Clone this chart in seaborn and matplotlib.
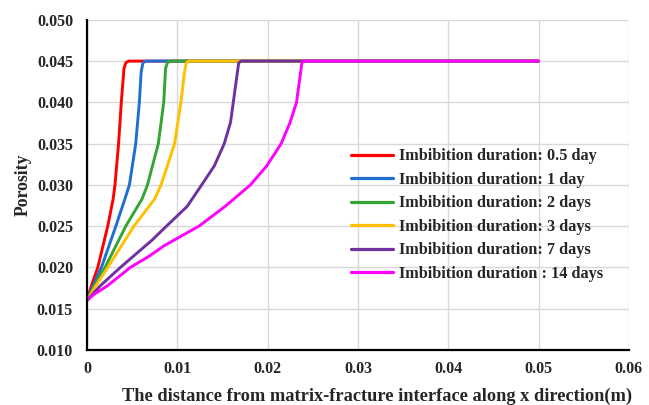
import matplotlib
matplotlib.use("Agg")
import matplotlib.pyplot as plt
import seaborn as sns
import pandas as pd

# Porosity profiles along x for each imbibition duration (distance in m)
labels = [
    "Imbibition duration: 0.5 day",
    "Imbibition duration: 1 day",
    "Imbibition duration: 2 days",
    "Imbibition duration: 3 days",
    "Imbibition duration: 7 days",
    "Imbibition duration : 14 days",
]
colors = ["#FF0000", "#1F6FD0", "#33A532", "#FFC000", "#7030A0", "#FF00FF"]

por_05 = [0.0160, 0.0178, 0.0200, 0.0250, 0.0283, 0.0300, 0.0350, 0.0400, 0.0441, 0.0448, 0.0450, 0.0450]
x_05 = [0.0000, 0.0005, 0.0012, 0.0023, 0.0029, 0.0031, 0.0035, 0.0038, 0.0041, 0.0043, 0.0046, 0.0500]

por_1 = [0.0160, 0.0178, 0.0200, 0.0250, 0.0283, 0.0300, 0.0350, 0.0400, 0.0437, 0.0448, 0.0450, 0.0450]
x_1 = [0.0000, 0.0007, 0.0016, 0.0032, 0.0042, 0.0047, 0.0054, 0.0058, 0.0060, 0.0062, 0.0065, 0.0500]

por_2 = [0.0160, 0.0178, 0.0200, 0.0250, 0.0283, 0.0300, 0.0350, 0.0400, 0.0441, 0.0448, 0.0450, 0.0450]
x_2 = [0.0000, 0.00085, 0.0020, 0.0043, 0.0061, 0.0067, 0.0079, 0.0085, 0.0087, 0.0089, 0.0092, 0.0500]

por_3 = [0.0160, 0.0178, 0.0200, 0.0250, 0.0283, 0.0300, 0.0323, 0.0350, 0.0400, 0.0437, 0.0448, 0.0450, 0.0450]
x_3 = [0.0000, 0.0010, 0.0023, 0.0052, 0.0075, 0.0082, 0.0089, 0.0097, 0.0104, 0.0108, 0.0110, 0.0113, 0.0500]

por_7 = [0.0160, 0.0178, 0.0200, 0.0233, 0.0250, 0.0274, 0.0300, 0.0323, 0.0350, 0.0376, 0.0400, 0.0424, 0.0448, 0.0450, 0.0450]
x_7 = [0.0000, 0.0015, 0.0037, 0.0072, 0.0088, 0.0111, 0.0127, 0.0141, 0.0152, 0.0159, 0.0162, 0.0165, 0.0168, 0.0171, 0.0500]

por_14 = [0.0160, 0.01675, 0.0178, 0.0200, 0.0213, 0.0226, 0.0250, 0.0274, 0.0300, 0.0323, 0.0350, 0.0376, 0.0400, 0.0424, 0.0448, 0.0450, 0.0450]
x_14 = [0.0000, 0.0008, 0.0023, 0.0048, 0.0068, 0.0085, 0.0124, 0.0153, 0.0181, 0.0199, 0.0215, 0.0225, 0.0232, 0.0235, 0.0238, 0.0240, 0.0500]

series = [(x_05, por_05), (x_1, por_1), (x_2, por_2), (x_3, por_3), (x_7, por_7), (x_14, por_14)]

xticks = [0, 0.01, 0.02, 0.03, 0.04, 0.05, 0.06]
xticklabels = ["0", "0.01", "0.02", "0.03", "0.04", "0.05", "0.06"]
yticks = [0.010, 0.015, 0.020, 0.025, 0.030, 0.035, 0.040, 0.045, 0.050]
yticklabels = ["0.010", "0.015", "0.020", "0.025", "0.030", "0.035", "0.040", "0.045", "0.050"]

frames = []
for lab, (xs, ys) in zip(labels, series):
    frames.append(pd.DataFrame({"distance": xs, "porosity": ys, "duration": lab}))
df = pd.concat(frames, ignore_index=True)

sns.set_theme(style="white")
plt.rcParams["font.family"] = ["Liberation Serif", "DejaVu Serif"]
plt.rcParams["font.weight"] = "bold"

fig = plt.figure(figsize=(6.49, 4.05), dpi=100)
ax = fig.add_axes([0.134, 0.136, 0.835, 0.815])

sns.lineplot(data=df, x="distance", y="porosity", hue="duration", hue_order=labels,
             palette=colors, sort=False, estimator=None, linewidth=2.1, ax=ax)

ax.set_xlim(0, 0.06)
ax.set_ylim(0.010, 0.050)
ax.set_xticks(xticks)
ax.set_xticklabels(xticklabels)
ax.set_yticks(yticks)
ax.set_yticklabels(yticklabels)
ax.grid(True, color="#d9d9d9", linewidth=1.0)
ax.set_axisbelow(True)
for side in ["top", "right"]:
    ax.spines[side].set_visible(False)
for side in ["left", "bottom"]:
    ax.spines[side].set_color("black")
    ax.spines[side].set_linewidth(1.6)
ax.tick_params(axis="both", direction="in", length=4, width=1.2, color="black",
               labelsize=11.5)
ax.tick_params(axis="y", pad=10)
ax.tick_params(axis="x", pad=8)
for t in ax.get_xticklabels() + ax.get_yticklabels():
    t.set_fontweight("bold")

ax.set_xlabel("The distance from matrix-fracture interface along x direction(m)",
              fontsize=13.2, fontweight="bold")
ax.xaxis.set_label_coords(0.535, -0.115)
ax.set_ylabel("Porosity", fontsize=12.8, fontweight="bold", labelpad=4)

leg = ax.legend(loc="upper left", bbox_to_anchor=(0.475, 0.63), frameon=False,
                prop={"family": "Liberation Serif", "weight": "bold", "size": 11.7},
                handlelength=2.6, handletextpad=0.35, labelspacing=0.46, borderaxespad=0)
for line in leg.get_lines():
    line.set_linewidth(2.3)

fig.savefig("out.png", dpi=100)
